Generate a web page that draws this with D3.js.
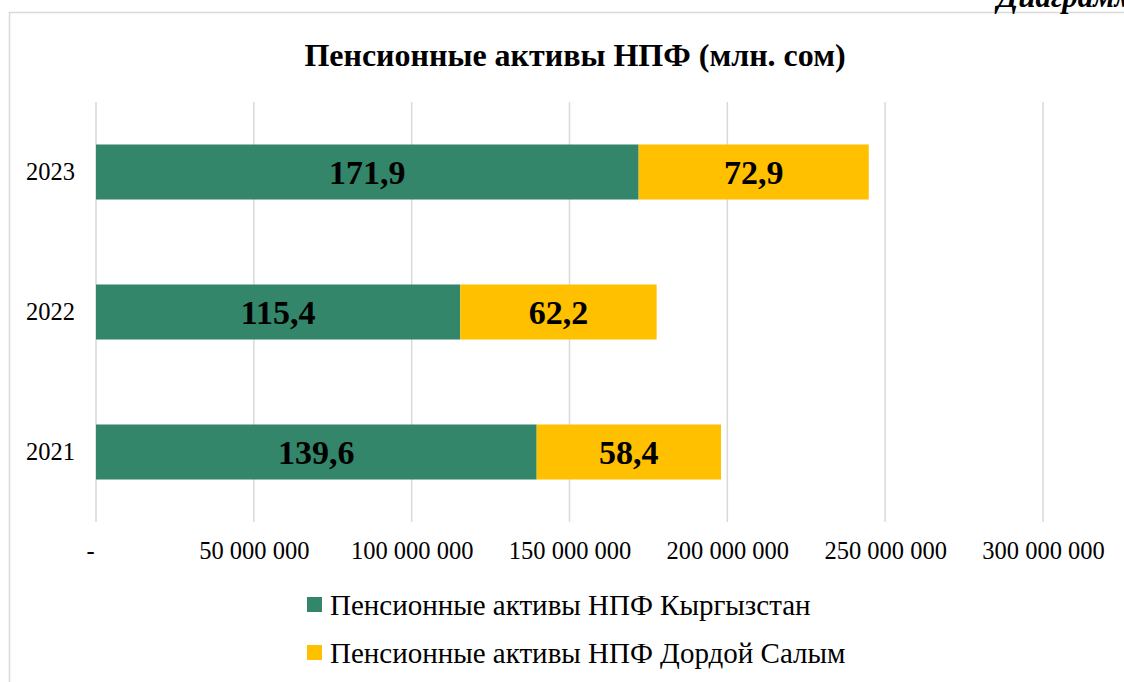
<!DOCTYPE html>
<html>
<head>
<meta charset="utf-8">
<script src="https://cdn.jsdelivr.net/npm/d3@7"></script>
<style>
  body { margin: 0; background: #fff; }
  svg { display: block; font-family: "Liberation Serif", "Times New Roman", serif; }
</style>
</head>
<body>
<svg class="chart" width="1124" height="682"></svg>
<script>
// values in som
const years = ["2023", "2022", "2021"];
const kyrgyzstan = [171900000, 115400000, 139600000];
const dordoi = [72900000, 62200000, 58400000];
const seriesNames = ["Пенсионные активы НПФ Кыргызстан", "Пенсионные активы НПФ Дордой Салым"];
const xTicks = [0, 50000000, 100000000, 150000000, 200000000, 250000000, 300000000];

let svg = d3.select(".chart"),
    colors = ["#33866a", "#ffc000"]

// frame + caption cut at the top
svg.append("path")
  .attr("d", "M9.5,682 V12.5 H1124")
  .attr("fill", "none")
  .attr("stroke", "#d9d9d9")
  .attr("stroke-width", 1.5)
svg.append("text")
  .attr("x", 997).attr("y", 7)
  .attr("font-size", 31).attr("font-weight", "bold").attr("font-style", "italic")
  .text("Диаграмма")

svg.append("text")
  .attr("x", 575).attr("y", 66)
  .attr("text-anchor", "middle")
  .attr("font-size", 32).attr("font-weight", "bold")
  .text("Пенсионные активы НПФ (млн. сом)")

let x = d3.scaleLinear().domain([0, 300000000]).range([96, 1043]),
    y = d3.scaleBand().domain(years).range([102, 522]).paddingInner(0.607).paddingOuter(0.3035)

let xAxis = d3.axisBottom(x).tickValues(xTicks).tickSize(0).tickPadding(0)
  .tickFormat(d => d === 0 ? "-" : d3.format(",")(d).replace(/,/g, " "))

svg.append("g")
  .selectAll("line")
  .data(xTicks)
  .enter()
  .append("line")
  .attr("x1", d => x(d)).attr("x2", d => x(d))
  .attr("y1", 102).attr("y2", 522)
  .attr("stroke", "#d9d9d9").attr("stroke-width", 1.5)

let gx = svg.append("g")
  .attr("transform", "translate(0,559)")
  .call(xAxis)
gx.select(".domain").remove()
gx.selectAll("text")
  .attr("font-family", "Liberation Serif, serif")
  .attr("font-size", 24.5)
  .attr("fill", "#000")
  .attr("dy", 0)
gx.selectAll(".tick").filter(d => d === 0).select("text").attr("dx", -6)

let yAxis = d3.axisLeft(y).tickSize(0).tickPadding(21)
let gy = svg.append("g").attr("transform", "translate(96,0)").call(yAxis)
gy.select(".domain").remove()
gy.selectAll("text")
  .attr("font-family", "Liberation Serif, serif")
  .attr("font-size", 24.5)
  .attr("fill", "#000")

let rows = years.map((yr, i) => ({year: yr, a: kyrgyzstan[i], b: dordoi[i]}))

let bars = svg.append("g")
rows.forEach(r => {
  let segs = [
    {x0: 0, x1: r.a, c: colors[0], v: r.a},
    {x0: r.a, x1: r.a + r.b, c: colors[1], v: r.b}
  ]
  segs.forEach(s => {
    bars.append("rect")
      .attr("x", x(s.x0))
      .attr("y", y(r.year))
      .attr("width", x(s.x1) - x(s.x0))
      .attr("height", y.bandwidth())
      .attr("fill", s.c)
    bars.append("text")
      .attr("x", (x(s.x0) + x(s.x1)) / 2)
      .attr("y", y(r.year) + y.bandwidth() / 2)
      .attr("dy", "0.35em")
      .attr("text-anchor", "middle")
      .attr("font-size", 34).attr("font-weight", "bold")
      .text(d3.format(".1f")(s.v / 1e6).replace(".", ","))
  })
})

let legend = svg.append("g")
seriesNames.forEach((n, i) => {
  let ly = 604.5 + i * 48
  legend.append("rect")
    .attr("x", 307).attr("y", ly - 7.5)
    .attr("width", 15).attr("height", 15)
    .attr("fill", colors[i])
  legend.append("text")
    .attr("x", 330).attr("y", ly)
    .attr("dy", "0.35em")
    .attr("font-size", 29)
    .text(n)
})
</script>
</body>
</html>
